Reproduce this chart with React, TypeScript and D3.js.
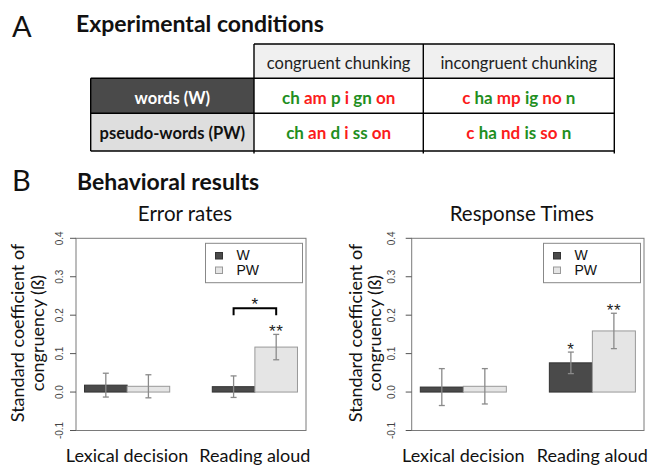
import React from 'react';
import * as d3 from 'd3';

const groups = ['Lexical decision', 'Reading aloud'];
const seriesNames = ['W', 'PW'];
const errorW = [0.018, 0.014];
const errorPW = [0.015, 0.117];
const errorWse = [0.031, 0.028];
const errorPWse = [0.030, 0.033];
const errorWstars = ['', ''];
const errorPWstars = ['', '**'];
const rtW = [0.013, 0.076];
const rtPW = [0.015, 0.159];
const rtWse = [0.048, 0.028];
const rtPWse = [0.046, 0.046];
const rtWstars = ['', '*'];
const rtPWstars = ['', '**'];
const yTicks = [-0.1, 0, 0.1, 0.2, 0.3, 0.4];
const tableCols = ['congruent chunking', 'incongruent chunking'];
const tableRows = ['words (W)', 'pseudo-words (PW)'];
const cellChunks = [
  ['ch am p i gn on', 'c ha mp ig no n'],
  ['ch an d i ss on', 'c ha nd is so n'],
];

const FONT = "Lato, 'Open Sans', sans-serif";
const RFONT = "'Liberation Sans', Arial, sans-serif";
const GREEN = '#1f8f1f';
const RED = '#fb1c1c';
const W_FILL = '#4a4a4a';
const PW_FILL = '#e5e5e5';

type PanelProps = {
  title: string;
  w: number[];
  pw: number[];
  wse: number[];
  pwse: number[];
  wstars: string[];
  pwstars: string[];
  x0: number;
  x1: number;
  tickLabelX: number;
  yTitleX: [number, number];
  bracket?: string;
};

function Panel(p: PanelProps) {
  const yTop = 238.3;
  const yBot = 430.5;
  const x = d3.scaleLinear().domain([0.8, 6.2]).range([p.x0, p.x1]);
  const y = d3.scaleLinear().domain([-0.1, 0.4]).range([yBot, yTop]);
  const series = [
    { vals: p.w, se: p.wse, stars: p.wstars, fill: W_FILL, stroke: '#333' },
    { vals: p.pw, se: p.pwse, stars: p.pwstars, fill: PW_FILL, stroke: '#999' },
  ];
  const legR = p.x1 - 3.5;
  const legL = legR - 97;
  const cx = (p.x0 + p.x1) / 2;
  return (
    <g>
      <text x={cx - 6} y={221} textAnchor="middle" fontFamily={FONT} fontSize={20.5} fill="#111">
        {p.title}
      </text>
      {groups.map((g, gi) => {
        const start = 1 + gi * 3;
        return (
          <g key={g}>
            {series.map((s, si) => {
              const xl = x(start + si);
              const xr = x(start + si + 1);
              const v = s.vals[gi];
              return (
                <rect key={si} x={xl} y={y(Math.max(v, 0))} width={xr - xl}
                  height={Math.abs(y(v) - y(0))} fill={s.fill} stroke={s.stroke} strokeWidth={1} />
              );
            })}
            {series.map((s, si) => {
              const xc = x(start + si + 0.5);
              const v = s.vals[gi];
              const hi = y(v + s.se[gi]);
              const lo = y(v - s.se[gi]);
              return (
                <g key={'e' + si} stroke="#8a8a8a" strokeWidth={1.3}>
                  <line x1={xc} x2={xc} y1={hi} y2={lo} />
                  <line x1={xc - 3} x2={xc + 3} y1={hi} y2={hi} />
                  <line x1={xc - 3} x2={xc + 3} y1={lo} y2={lo} />
                  {s.stars[gi] ? (
                    <text x={xc} y={hi + 3} textAnchor="middle" fontFamily={RFONT} fontSize={17}
                      fill="#222" stroke="none" letterSpacing={0.5}>
                      {s.stars[gi]}
                    </text>
                  ) : null}
                </g>
              );
            })}
            <text x={x(start + 1)} y={462} textAnchor="middle" fontFamily={FONT} fontSize={18} fill="#111">
              {g}
            </text>
          </g>
        );
      })}
      {p.bracket ? (() => {
        const xa = x(4.5);
        const xb = x(5.5);
        const yb = 308.3;
        return (
          <g>
            <path d={`M${xa},${yb + 7}V${yb}H${xb}V${yb + 7}`} fill="none" stroke="#000" strokeWidth={2} />
            <text x={(xa + xb) / 2} y={yb + 1.5} textAnchor="middle" fontFamily={RFONT} fontSize={17} fill="#111">
              {p.bracket}
            </text>
          </g>
        );
      })() : null}
      <rect x={p.x0} y={yTop} width={p.x1 - p.x0} height={yBot - yTop} fill="none" stroke="#7a7a7a" strokeWidth={1} />
      {yTicks.map((t) => (
        <g key={t}>
          <line x1={p.x0 - 6} x2={p.x0} y1={y(t)} y2={y(t)} stroke="#555" strokeWidth={1} />
          <text transform={`translate(${p.tickLabelX},${y(t)}) rotate(-90)`} textAnchor="middle"
            fontFamily={RFONT} fontSize={10} fill="#444">
            {t.toFixed(1)}
          </text>
        </g>
      ))}
      <text transform={`translate(${p.yTitleX[0]},333) rotate(-90)`} textAnchor="middle" fontFamily={FONT}
        fontSize={18} fill="#111">
        Standard coefficient of
      </text>
      <text transform={`translate(${p.yTitleX[1]},333) rotate(-90)`} textAnchor="middle" fontFamily={FONT}
        fontSize={18} fill="#111">
        congruency (ß)
      </text>
      <rect x={legL} y={243.3} width={legR - legL} height={39.4} fill="#fff" stroke="#888" strokeWidth={1} />
      {seriesNames.map((n, i) => (
        <g key={n}>
          <rect x={legL + 10} y={252.5 + i * 14.5} width={7} height={6.5} fill={series[i].fill}
            stroke={series[i].stroke} strokeWidth={1} />
          <text x={legL + 31} y={260 + i * 15} fontFamily={RFONT} fontSize={14} fill="#111">
            {n}
          </text>
        </g>
      ))}
    </g>
  );
}

function Table() {
  const colX = [254, 423.3, 614.3];
  const labX = 90.7;
  const rowY = [44, 78.3, 113.3, 151];
  const baselines = [104, 139];
  return (
    <g>
      {tableCols.map((c, i) => (
        <g key={c}>
          <rect x={colX[i]} y={rowY[0]} width={colX[i + 1] - colX[i]} height={rowY[1] - rowY[0]}
            fill="#f0f0f0" />
          <text x={(colX[i] + colX[i + 1]) / 2} y={68.5} textAnchor="middle" fontFamily={FONT}
            fontSize={16.5} fill="#222">
            {c}
          </text>
        </g>
      ))}
      {tableRows.map((r, ri) => (
        <g key={r}>
          <rect x={labX} y={rowY[ri + 1]} width={colX[0] - labX} height={rowY[ri + 2] - rowY[ri + 1]}
            fill={ri === 0 ? W_FILL : '#dedede'} />
          <text x={(labX + colX[0]) / 2} y={baselines[ri]} textAnchor="middle" fontFamily={FONT}
            fontWeight="bold" fontSize={16.5} fill={ri === 0 ? '#fff' : '#111'}>
            {r}
          </text>
          {cellChunks[ri].map((cell, ci) => (
            <text key={ci} x={(colX[ci] + colX[ci + 1]) / 2} y={baselines[ri]} textAnchor="middle"
              fontFamily={FONT} fontWeight="bold" fontSize={17}>
              {cell.split(' ').map((part, pi) => {
                const green = ci === 0 ? pi % 2 === 0 : pi % 2 === 1;
                return (
                  <tspan key={pi} fill={green ? GREEN : RED}>
                    {(pi > 0 ? ' ' : '') + part}
                  </tspan>
                );
              })}
            </text>
          ))}
        </g>
      ))}
      <g stroke="#000" strokeWidth={1.4} fill="none">
        <line x1={colX[0]} x2={colX[2]} y1={rowY[0]} y2={rowY[0]} />
        <line x1={labX} x2={colX[2]} y1={rowY[1]} y2={rowY[1]} />
        <line x1={labX} x2={colX[2]} y1={rowY[2]} y2={rowY[2]} />
        <line x1={labX} x2={colX[2]} y1={rowY[3]} y2={rowY[3]} />
        <line x1={labX} x2={labX} y1={rowY[1]} y2={rowY[3]} />
        {colX.map((cx) => (
          <line key={cx} x1={cx} x2={cx} y1={rowY[0]} y2={rowY[3] + 2.5} />
        ))}
      </g>
    </g>
  );
}

export default function App() {
  return (
    <svg width={663} height={468} style={{ position: 'absolute', left: 0, top: 0, background: '#fff' }}>
      <rect width={663} height={468} fill="#fff" />
      <text x={12} y={37} fontFamily={FONT} fontWeight={400} fontSize={29} fill="#111">A</text>
      <text x={76} y={32} fontFamily={FONT} fontWeight="bold" fontSize={23} fill="#111">Experimental conditions</text>
      <Table />
      <text x={12} y={191} fontFamily={FONT} fontWeight={400} fontSize={29} fill="#111">B</text>
      <text x={77} y={190} fontFamily={FONT} fontWeight="bold" fontSize={23} fill="#111">Behavioral results</text>
      <Panel title="Error rates" w={errorW} pw={errorPW} wse={errorWse} pwse={errorPWse}
        wstars={errorWstars} pwstars={errorPWstars} x0={76} x1={306} tickLabelX={63}
        yTitleX={[24, 43.5]} bracket="*" />
      <Panel title="Response Times" w={rtW} pw={rtPW} wse={rtWse} pwse={rtPWse}
        wstars={rtWstars} pwstars={rtPWstars} x0={411.7} x1={644} tickLabelX={395}
        yTitleX={[361.5, 380.5]} />
    </svg>
  );
}
